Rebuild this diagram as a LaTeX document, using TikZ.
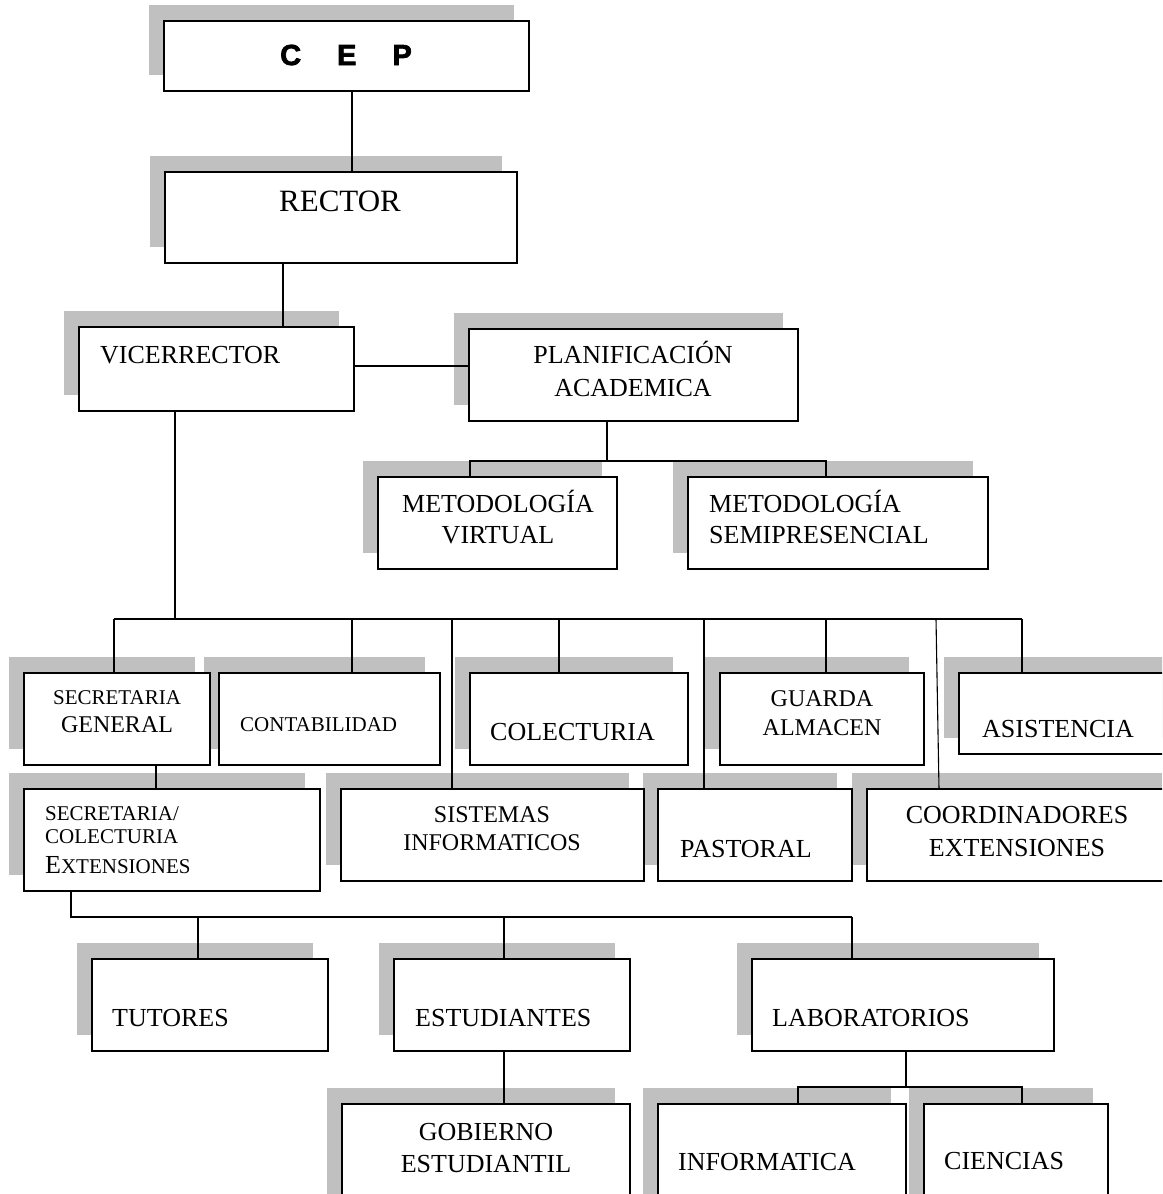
\documentclass[tikz,border=0pt]{standalone}
\usepackage{fontspec}
\setmainfont{Liberation Serif}
\newfontfamily\cepfont[BoldFeatures={FakeBold=2.5}]{Liberation Sans}
\usetikzlibrary{shadows}
\definecolor{shadowgray}{HTML}{C0C0C0}
\newcommand{\fsz}[1]{\fontsize{#1}{#1}\selectfont}

\begin{document}
\begin{tikzpicture}[x=1pt, y=-1pt,
    unit/.style={draw, fill=white, line width=1.4pt, inner sep=0pt, outer sep=0pt, anchor=north west,
      general shadow={fill=shadowgray, shadow xshift=-15.5pt, shadow yshift=16pt}},
    txt/.style={inner sep=0pt, anchor=base west, font={\fsz{26}}},
    ctxt/.style={txt, anchor=base},
    link/.style={line width=1.1pt}]
    \useasboundingbox (0,0) rectangle (1162,1194);
    \clip (0,0) rectangle (1162,1194);

    % boxes, right to left in each row
    \node[unit, minimum width=365, minimum height=70] (cep) at (164,21) {};
    \node[unit, minimum width=352, minimum height=91] (rector) at (165,172) {};
    \node[unit, minimum width=329, minimum height=92] (plan) at (469,329) {};
    \node[unit, minimum width=275, minimum height=84] (vice) at (79,327) {};
    \node[unit, minimum width=300, minimum height=92] (msemi) at (688,477) {};
    \node[unit, minimum width=239, minimum height=92] (mvirt) at (378,477) {};

    \node[unit, minimum width=220, minimum height=81] (asist) at (959,673) {};
    \node[unit, minimum width=204, minimum height=92] (guarda) at (720,673) {};
    \node[unit, minimum width=218, minimum height=92] (colec) at (470,673) {};
    \node[unit, minimum width=221, minimum height=92] (contab) at (219,673) {};
    \node[unit, minimum width=186, minimum height=92] (secgen) at (24,673) {};

    \node[unit, minimum width=310, minimum height=92] (coord) at (867,789) {};
    \node[unit, minimum width=194, minimum height=92] (past) at (658,789) {};
    \node[unit, minimum width=303, minimum height=92] (sist) at (341,789) {};
    \node[unit, minimum width=296, minimum height=102] (seccol) at (24,789) {};

    \node[unit, minimum width=302, minimum height=92] (lab) at (752,959) {};
    \node[unit, minimum width=236, minimum height=92] (estud) at (394,959) {};
    \node[unit, minimum width=236, minimum height=92] (tut) at (92,959) {};

    \node[unit, minimum width=184, minimum height=120] (cien) at (924,1104) {};
    \node[unit, minimum width=248, minimum height=120] (inf) at (658,1104) {};
    \node[unit, minimum width=288, minimum height=120] (gob) at (342,1104) {};

    % texts
    \node[inner sep=0pt, anchor=base west, font={\cepfont\bfseries\fsz{29}}] (cep-t) at (280,65) {C\hspace{36pt}E\hspace{36pt}P};
    \node[ctxt, font={\fsz{31}}] (rector-t) at (340,211) {RECTOR};
    \node[txt] (vice-t) at (100,363) {VICERRECTOR};
    \node[ctxt] (plan-a) at (633,363) {PLANIFICACIÓN};
    \node[ctxt] (plan-b) at (633,396) {ACADEMICA};
    \node[ctxt] (mvirt-a) at (498,512) {METODOLOGÍA};
    \node[ctxt] (mvirt-b) at (498,543) {VIRTUAL};
    \node[txt] (msemi-a) at (709,512) {METODOLOGÍA};
    \node[txt] (msemi-b) at (709,543) {SEMIPRESENCIAL};

    \node[ctxt, font={\fsz{21}}] (secgen-a) at (117,704) {SECRETARIA};
    \node[ctxt, font={\fsz{24}}] (secgen-b) at (117,732) {GENERAL};
    \node[txt, font={\fsz{21}}] (contab-t) at (240,731) {CONTABILIDAD};
    \node[txt] (colec-t) at (490,740) {COLECTURIA};
    \node[ctxt, font={\fsz{24}}] (guarda-a) at (822,706) {GUARDA};
    \node[ctxt, font={\fsz{24}}] (guarda-b) at (822,735) {ALMACEN};
    \node[txt] (asist-t) at (982,737) {ASISTENCIA};

    \node[txt, font={\fsz{21}}] (seccol-a) at (45,820) {SECRETARIA/};
    \node[txt, font={\fsz{21}}] (seccol-b) at (45,843) {COLECTURIA};
    \node[txt, font={\fsz{21}}] (seccol-c) at (45,873) {{\fsz{26}E}XTENSIONES};
    \node[ctxt, font={\fsz{24}}] (sist-a) at (492,822) {SISTEMAS};
    \node[ctxt, font={\fsz{24}}] (sist-b) at (492,850) {INFORMATICOS};
    \node[txt] (past-t) at (680,857) {PASTORAL};
    \node[ctxt] (coord-a) at (1017,823) {COORDINADORES};
    \node[ctxt] (coord-b) at (1017,856) {EXTENSIONES};

    \node[txt] (tut-t) at (112,1026) {TUTORES};
    \node[txt] (estud-t) at (415,1026) {ESTUDIANTES};
    \node[txt] (lab-t) at (772,1026) {LABORATORIOS};
    \node[ctxt] (gob-a) at (486,1140) {GOBIERNO};
    \node[ctxt] (gob-b) at (486,1172) {ESTUDIANTIL};
    \node[txt] (inf-t) at (678,1170) {INFORMATICA};
    \node[txt] (cien-t) at (944,1169) {CIENCIAS};

    % connectors
    \draw[link] (cep.south -| 352,0) -- (rector.north -| 352,0);
    \draw[link] (rector.south -| 283,0) -- (vice.north -| 283,0);
    \draw[link] (vice.east |- 0,366) -- (plan.west |- 0,366);

    \coordinate (pbus) at (0,461);
    \draw[link] (plan.south -| 607,0) -- (pbus -| 607,0);
    \draw[link] (mvirt.north -| 470,0) |- (pbus -| 607,0) -| (msemi.north -| 826,0);

    \coordinate (vbus) at (0,619);
    \draw[link] (vice.south -| 175,0) -- (vbus -| 175,0);
    \draw[link] (vbus -| 114,0) -- (vbus -| 1022,0);
    \foreach \n/\x in {secgen/114, contab/352, colec/559, sist/452, past/704, guarda/826, asist/1022}
        \draw[link] (vbus -| \x,0) -- (\n.north -| \x,0);
    \draw[link] (vbus -| 936,0) -- (coord.north -| 939,0);

    \draw[link] (secgen.south -| 156,0) -- (seccol.north -| 156,0);
    \coordinate (sbus) at (0,917);
    \draw[link] (seccol.south -| 71,0) |- (sbus -| 852,0);
    \foreach \n/\x in {tut/198, estud/504, lab/852}
        \draw[link] (sbus -| \x,0) -- (\n.north -| \x,0);

    \draw[link] (estud.south -| 504,0) -- (gob.north -| 504,0);
    \coordinate (lbus) at (0,1087);
    \draw[link] (lab.south -| 906,0) -- (lbus -| 906,0);
    \draw[link] (inf.north -| 798,0) |- (lbus -| 1022,0) -- (cien.north -| 1022,0);
\end{tikzpicture}
\end{document}
